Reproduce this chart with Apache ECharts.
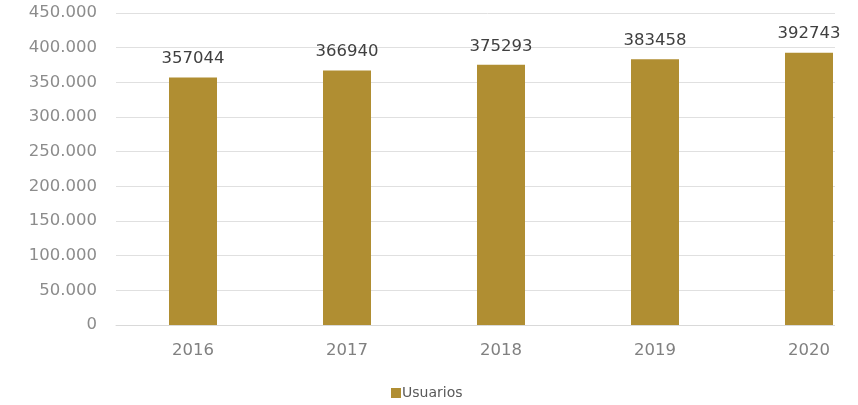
<!DOCTYPE html>
<html><head><meta charset="utf-8">
<script src="https://cdn.jsdelivr.net/npm/echarts@6/dist/echarts.min.js"></script>
<style>html,body{margin:0;padding:0;background:#fff}#c{width:858px;height:405px}</style>
</head><body><div id="c"></div>
<script>
const categories = ['2016','2017','2018','2019','2020'];
const usuarios = [357044, 366940, 375293, 383458, 392743];
const seriesName = 'Usuarios';
const yMin = 0, yMax = 450000, yInterval = 50000;

function fmt(v){ return String(v).replace(/\B(?=(\d{3})+(?!\d))/g, '.'); }

const chart = echarts.init(document.getElementById('c'), null, {renderer:'canvas'});
chart.setOption({
  animation:false,
  textStyle:{fontFamily:'"DejaVu Sans", sans-serif'},
  grid:{left:116, width:770, top:13, height:312, containLabel:false, outerBoundsMode:'none'},
  legend:{
    data:[seriesName], top:381, left:386,
    icon:'rect', itemWidth:10, itemHeight:10, itemGap:4,
    textStyle:{fontSize:14, color:'#595959', padding:[0,0,0,-4]}
  },
  xAxis:{
    type:'category', data:categories,
    axisLine:{lineStyle:{color:'#d9d9d9', width:1}},
    axisTick:{show:false},
    axisLabel:{fontSize:16.5, color:'#808080', margin:17}
  },
  yAxis:{
    type:'value', min:yMin, max:yMax, interval:yInterval,
    axisLine:{show:false}, axisTick:{show:false},
    splitLine:{lineStyle:{color:'#e0e0e0', width:1}},
    axisLabel:{fontSize:16.5, color:'#8c8c8c', margin:19, formatter:fmt}
  },
  graphic:[{type:'rect', z:1, shape:{x:835, y:0, width:30, height:330}, style:{fill:'#fff'}}],
  series:[{
    name:seriesName, type:'bar', data:usuarios, barWidth:48, z:3,
    itemStyle:{color:'#B08E32'},
    label:{show:true, position:'top', distance:10, fontSize:16.5, color:'#404040'}
  }]
});
</script></body></html>
